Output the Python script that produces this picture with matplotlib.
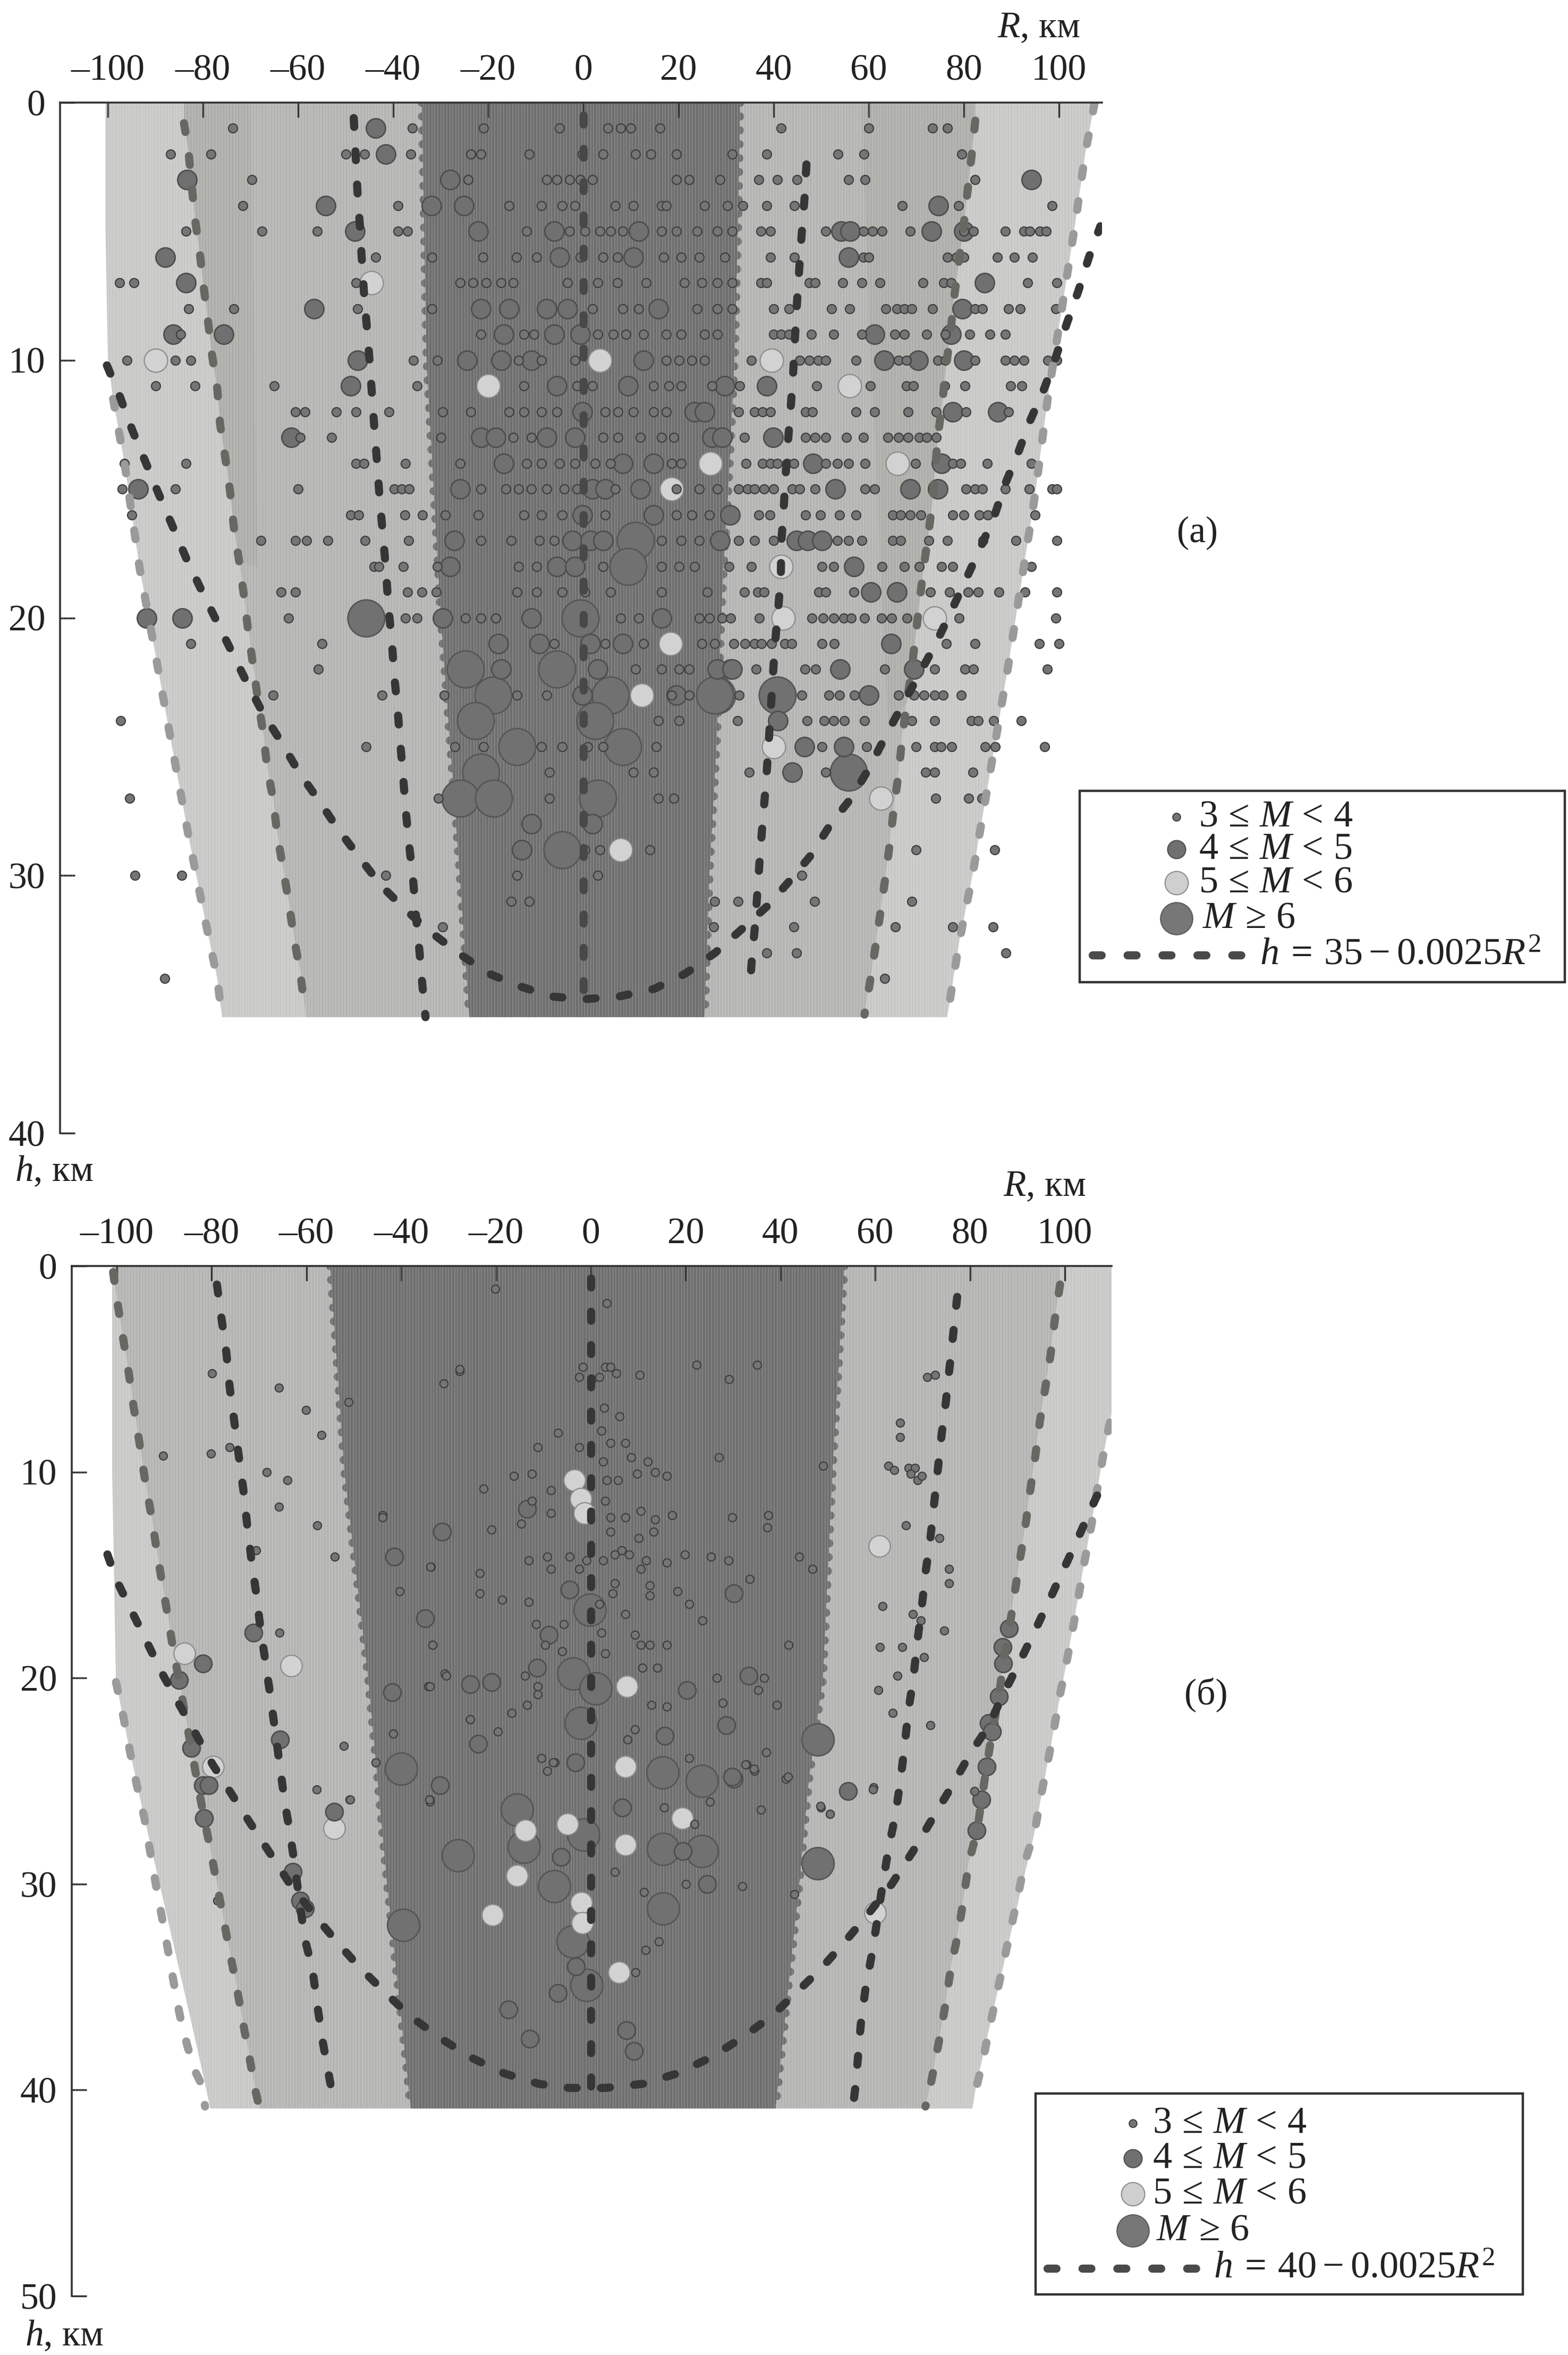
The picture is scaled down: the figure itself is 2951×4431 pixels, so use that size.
import matplotlib
matplotlib.use('Agg')
import matplotlib.pyplot as plt
import numpy as np
from matplotlib.patches import Rectangle

plt.rcParams['font.family'] = ['Liberation Serif', 'DejaVu Sans']
plt.rcParams['mathtext.fontset'] = 'custom'
plt.rcParams['mathtext.rm'] = 'Liberation Serif'
plt.rcParams['mathtext.it'] = 'Liberation Serif:italic'
plt.rcParams['mathtext.bf'] = 'Liberation Serif:bold'

W, H = 2951, 4431

x_ticks = [-100, -80, -60, -40, -20, 0, 20, 40, 60, 80, 100]
x_labels = ['–100', '–80', '–60', '–40', '–20', '0', '20', '40', '60', '80', '100']
a_y_ticks = [0, 10, 20, 30, 40]
b_y_ticks = [0, 10, 20, 30, 40, 50]

# ---------- panel (a): band edges and dashed curves
a_bottom = 35.5
a_outer_l_R = [-100.5, -100.5, -100, -98.9, -96.5, -93.3, -90.6, -86.8, -82.8, -79.9, -77, -76]
a_outer_l_h = [0, 5, 10, 11.5, 14, 18.1, 20.8, 24.7, 28.7, 31.4, 34, 35.5]
a_dark_l_R = [-34, -33.5, -33, -31.5, -30, -28, -26, -24]
a_dark_l_h = [0, 5, 10, 15, 20, 25, 30, 35.5]
a_dark_r_R = [33, 32.5, 31.8, 30.5, 29.5, 29, 28, 26.5, 25.5]
a_dark_r_h = [0, 5, 10, 15, 18, 20, 25, 30, 35.5]
a_outer_r_R = [107.5, 105.5, 103.4, 101.2, 97.7, 94.9, 92.7, 89.2, 85.6, 81.9, 79, 76.5]
a_outer_r_h = [0, 2, 4.7, 7.3, 11.4, 15.3, 17.9, 22, 25.9, 29.9, 32.6, 35.5]

a_shade_l_R = [-70, -69.5, -69, -68.5]
a_shade_l_h = [0, 6, 12, 18]
a_shade_r_R = [58.5, 60, 62, 64]
a_shade_r_h = [0, 8, 16, 24]

a_b_l_R = [-84, -83.1, -81.7, -80.7, -79.9, -79, -78.1, -77, -76.4, -75.3, -74.3, -73.5, -72.4, -71.5, -70.5, -69.5, -68.5,
           -67.4, -66.5, -65.2, -64.4, -63.1, -61.9, -60.9, -59.6, -58.5]
a_b_l_h = [0.8, 1.8, 4.5, 5.8, 7.1, 8.4, 9.8, 11.1, 12.5, 13.8, 15.1, 16.5, 17.8, 19, 20.5, 21.8, 23.1,
           24.4, 25.8, 27.1, 28.4, 29.8, 31.1, 32.4, 33.7, 35.3]
a_b_r_R = [82.4, 81.6, 80.8, 80, 79, 78, 77.2, 76.3, 75.5, 74.5, 73.4, 72.5, 71.5, 70.6, 69.8, 69, 68, 67, 66.3, 65.2,
           64.4, 63.4, 62.4, 61.3, 60.2, 59.1]
a_b_r_h = [0.7, 2.1, 3.4, 4.7, 6.1, 7.5, 8.9, 10.2, 11.6, 13, 15.5, 16.8, 18.1, 19.5, 20.8, 22, 23.3, 24.7, 26, 27.5,
           28.8, 30.2, 31.5, 32.9, 34.2, 35.4]
a_c_l_R = [-48.3, -47.5, -47, -46.6, -46.1, -45.5, -44.9, -44.4, -43.9, -43.3, -42.8, -42.1, -41.5, -41, -40.3, -39.8,
           -39.1, -38.5, -37.9, -37.3, -36.6, -35.8, -35.2, -34.5, -33.9, -33.2]
a_c_l_h = [0.6, 3.5, 4.8, 6.1, 7.5, 8.8, 10.2, 11.5, 12.8, 14.2, 15.5, 16.9, 18.2, 19.6, 20.9, 22.2,
           23.5, 24.9, 26.2, 27.6, 28.9, 30.2, 31.6, 32.9, 34.2, 35.5]
a_c_r_R = [46.9, 46.5, 45.9, 45.4, 44.9, 44.5, 44.1, 43.6, 43, 42.5, 42.1, 41.6, 41.5, 40.2, 38.8, 38.3, 37.7, 37.1,
           36.6, 36.1, 35.4, 34.9]
a_c_r_h = [2.4, 3.7, 5.1, 6.4, 7.8, 9.1, 10.5, 11.8, 13.2, 14.5, 15.8, 17.1, 18.5, 21.2, 25.3, 26.6, 27.9, 29.3,
           30.6, 31.9, 33.3, 34.6]
a_zero_R = [0, 0, 0]
a_zero_h = [0.5, 18, 35.2]
a_par_R = [-100.2, -97.5, -94.9, -92.2, -89.3, -86.5, -83.5, -80.4, -77.2, -74, -70.8, -67.4, -63.6, -59.8, -55.6, -51.6,
           -47.1, -42.5, -37.6, -32.1, -26.4, -20, -13.4, -6.6, 0.3, 7.4, 14.9, 21.5, 27.7, 33.2, 38.6, 43.4, 47.9, 52,
           56.3, 60.2, 63.8, 74.1, 77.2, 83.2, 86.3, 88.7, 91.4, 93.8, 96.9, 99.3, 101.6, 104.1, 106.3, 108.7]
a_par_h = [10.2, 11.4, 12.7, 13.9, 15.2, 16.4, 17.7, 18.9, 20.1, 21.3, 22.5, 23.7, 24.8, 26, 27.1, 28.2,
           29.3, 30.4, 31.3, 32.2, 33, 33.8, 34.3, 34.7, 34.8, 34.7, 34.4, 33.8, 33, 32.1, 31.2, 30.2, 29.2, 28,
           27, 25.8, 24.5, 21, 19.8, 17.4, 16.1, 14.8, 13.6, 12.4, 11.1, 9.9, 8.6, 7.3, 6, 4.8]

# panel (a) catalogue: M 3-4, given row by row (depths are whole km there)
a_m3_depths = list(range(1, 35))
a_m3_R = [
    [-73.8, -36, -21, -5, 5.1, 7.8, 9.9, 16.1, 41.6, 60, 73.4, 76.5],
    [-86.8, -78.3, -50, -46, -36.3, -23.7, -21.6, -11.4, -0.2, 4.1, 11, 14.2, 19.6, 31.3, 38.5, 53.5, 59, 79.6],
    [-69.7, -24.3, -7.7, -5.6, -2.9, -0.7, 1.9, 19.6, 22.2, 28.7, 36.9, 40.8, 44.9, 55.7, 59.2, 82.4],
    [-71.6, -39, -15.7, -8.8, -4.5, -1.8, 6.7, 10.5, 16.4, 17.4, 25.5, 30.3, 33.5, 38.5, 44.4, 67, 78.9, 98.5],
    [-83.6, -67.6, -56, -39, -37, -12, -2.9, 0.3, 3.5, 5.7, 8.3, 16.4, 19.6, 23.9, 28.1, 31.3, 37.3, 39.3, 51, 58.9,
     60.8, 62.8, 68.7, 80, 82, 88.7, 92.6, 93.8, 96, 97.3],
    [-43.7, -31.8, -21.1, -14.1, -9.8, -0.7, 4.1, 7.2, 16.9, 20.6, 24.4, 29.7, 39.3, 44.4, 58.9, 60, 76.5, 78.4, 80,
     87, 90.6, 94.4],
    [-97.5, -94.5, -47.8, -25.9, -23.2, -20.5, -17.3, -14.7, -3.4, 3, 7.2, 13.2, 21.2, 24.9, 28.1, 31.3, 37.3, 38.5,
     47.5, 48.7, 54.5, 58.5, 62.4, 71.4, 75.7, 77.3, 93.4, 99.6],
    [-83, -73.5, -47.5, -31.8, 1.9, 8.3, 11.6, 23.9, 28.1, 31.3, 40, 43.2, 52.2, 56, 63.6, 65.9, 67.5, 69, 73.4, 82.4,
     83.9, 89.4, 91.8, 99.3],
    [-84.7, -21.6, -12.5, -10.4, 3, 6.2, 8.9, 12.6, 17.4, 20.6, 25.5, 28.1, 40, 41.6, 43.2, 47.9, 52.6, 58.5, 65.5,
     67.5, 72.2, 76.1, 81.2, 85.5, 88.7],
    [-96, -85.8, -82.6, -35.8, -30.7, -13.6, -8.8, -1.8, 17.4, 20.1, 22.8, 25.5, 35.3, 45.5, 47.5, 49.4, 51, 57.3,
     66.3, 67.9, 74.5, 76.1, 82.4, 88.7, 90.6, 92.6, 97.7, 99.6],
    [-90, -81.7, -65, -35, -12.5, -1.3, 1.9, 14.8, 18, 20.6, 27, 32.9, 49, 60.3, 67.9, 69.4, 76, 80.2, 89.8, 92.2],
    [-60.6, -58.5, -52, -47.8, -40.9, -29.6, -23.7, -15.7, -12.5, -8.8, -5.6, 4.6, 7.3, 10.5, 14.8, 17.4, 32.6, 36,
     37.7, 39.3, 46.7, 48.2, 57.3, 61.2, 68.3, 74.2, 80.4, 89.4],
    [-59.6, -53, -30, -14.7, -10.9, 4.1, 7.3, 12, 16.4, 19, 33.8, 46.7, 48.7, 51, 55.3, 58.9, 64, 66.3, 68.3, 70.6,
     72.2, 74.2],
    [-96.5, -83.6, -47.8, -46.2, -37.4, -25.9, -12, -8.8, -5, -1.8, 2.5, 5.7, 18.5, 20.6, 34.2, 37.7, 39.3, 40.8,
     42.8, 44.3, 51, 53.4, 55.7, 59.2, 69.8, 77.7, 79.3, 84.9, 94.2],
    [-97, -85.8, -60, -39.8, -38.2, -36.6, -21.6, -16.3, -13.6, -10.9, -7.7, -4, -1.3, 6.7, 19.6, 24.4, 28.1, 32.6,
     34.5, 36, 38, 40, 43.9, 45.5, 48.7, 59.2, 61.2, 80.4, 82.4, 83.9, 88.7, 93.7, 98.5, 99.6],
    [-95, -48.9, -47.3, -37.6, -33.9, -29, -22.1, -12.5, -8.8, -4.5, 4.6, 19.6, 22.8, 26.5, 36.9, 39.2, 46.7, 49.8,
     53.8, 57.3, 65, 66.7, 68.7, 71, 77.7, 80, 83.2, 85, 95],
    [-67.8, -60.6, -58.2, -53.7, -45.9, -36.8, -21.6, -15.2, -9.3, -6.1, 16.4, 20.6, 24.4, 32.6, 36, 40, 53.4, 55.7,
     58.5, 65, 66.7, 72.6, 76.5, 84, 91, 99.6],
    [-44, -43, -37.9, -30.7, -13.6, -9.8, 4.1, 16.4, 20.1, 23.3, 30.6, 35.3, 50.2, 52.6, 62.8, 67.5, 70.6, 75.3, 77.7,
     94.2],
    [-63.6, -60.6, -37, -34, -31, -14, -9.8, -4.5, 0.3, 5.7, 16.4, 26, 33.8, 36.6, 38, 49.5, 50.9, 56.9, 73, 77, 80.9,
     83, 87.4, 92.9, 99.5],
    [-62, -37.4, -35, -24.8, -21.6, -18.4, 7.8, 11.6, 24.4, 26.5, 29.2, 30.9, 37, 48, 50.4, 52.6, 54.8, 56.3, 59.1,
     62.7, 64.8, 68, 79, 99.3],
    [-82.6, -55, -6.1, 4.6, 12.6, 24.9, 27.6, 31.6, 34, 36, 37.4, 39.5, 42.4, 43.8, 50.2, 52.7, 76.3, 82.4, 95.9, 100],
    [-55.8, 11, 16.4, 20.1, 22.2, 36.3, 46.6, 48.8, 63.4, 73.8, 80.2, 82, 97.5],
    [-65.2, -42.3, -29.3, -14, -7.7, 18.5, 22.2, 32.7, 45.9, 51.6, 53.8, 57, 66.3, 69.5, 71.6, 73.8, 75.6, 79.4],
    [-97.3, 15.8, 20.1, 32.4, 47, 50.6, 52.6, 54.9, 59.1, 69, 73.8, 81.6, 83, 86.3, 92.1],
    [-45.7, -27, -21, -8.8, -4.5, 0.9, 4.1, 15.3, 50.2, 59.5, 69.9, 73.8, 75.2, 77.4, 84.5, 86.6, 97],
    [-7.2, 10.5, 14.8, 34.9, 50.9, 72, 73.8, 81.9],
    [-95.4, -30.5, -7.2, 15.8, 19, 74.1, 81, 83.8],
    [],
    [0.3, 3.5, 14, 69.9, 86.5],
    [-94.3, -84.5, -41.6, -14, 3, 45.9],
    [-15.2, -11.4, 27.6, 32.5, 48.6, 69],
    [-29.6, 27.4, 44.3, 65.6, 77.7, 86.1],
    [38.6, 44.8, 88.8],
    [-88, 63.4],
]
a_m4_pts = [
    (-43.7, 1), (-41.6, 2), (-83.3, 3), (-54.2, 4), (-48.1, 5), (-87.9, 6), (-83.6, 7), (-56.6, 8), (-86.3, 9),
    (-75.6, 9), (-47.5, 10), (-48.9, 11), (-61.5, 13), (-93.6, 15), (-91.9, 20), (-84.4, 20),
    (94.2, 3), (74.6, 4), (54.2, 5), (56.1, 5), (73.2, 5), (80, 5), (55.7, 6), (84.4, 7), (79.7, 8), (61.2, 9), (77.3, 9),
    (63.2, 10), (70.4, 10), (80, 10), (38.5, 11), (77.7, 12), (87.1, 12), (39.9, 13), (48.3, 14), (75.3, 14), (53, 15),
    (68.7, 15), (74.5, 15), (44.8, 17), (47.1, 17), (50.2, 17), (56.9, 18), (60.4, 19), (65.9, 19), (64.7, 21), (54, 22),
    (60, 23), (46.5, 25), (54.8, 25), (43.9, 26), (40.9, 24), (30.9, 22), (69.5, 22),
    (-28, 3), (-32, 4), (-25.1, 4), (-22.1, 5), (-6.1, 5), (11.6, 5), (-5, 6), (10.5, 6), (-21.6, 8), (-15.7, 8), (-7.7, 8),
    (-3.4, 8), (15.8, 8), (-16.8, 9), (-6.1, 9), (-0.7, 9), (-24.5, 10), (-17.3, 10), (-10.9, 10), (12.6, 10), (-5.6, 11),
    (9.4, 11), (29.7, 11), (-0.2, 12), (23.3, 12), (25.5, 12), (-21.6, 13), (-18.4, 13), (-7.7, 13), (-1.8, 13), (27, 13),
    (29.2, 13), (-16.8, 14), (8.3, 14), (14.8, 14), (-25.9, 15), (1.9, 15), (4.6, 15), (12, 15), (-0.2, 16), (14.8, 16),
    (30.8, 16), (-27.2, 17), (-2.4, 17), (1.4, 17), (4.1, 17), (28.7, 17), (-28, 18), (-5.6, 18), (-1.8, 18), (-10.9, 20),
    (-29.6, 20), (16.4, 20), (-17.9, 21), (-9.3, 21), (1.4, 21), (8.3, 21), (-17.3, 22), (3, 22), (28.1, 22), (31.3, 22),
    (-0.2, 23), (19.6, 23), (-10.9, 28), (1.9, 28), (-13, 29),
]
a_m5_pts = [
    (-90, 10), (-44.6, 7), (39.6, 10), (56, 11), (66, 14), (41.6, 18), (42, 20), (73.8, 20), (40, 25), (62.6, 27),
    (3.5, 10), (-20, 11), (26.7, 14), (18.5, 15), (18.3, 21), (12.3, 23), (7.8, 29),
]
a_m6_pts = [
    (-45.7, 20), (40.8, 23), (55.8, 26), (28, 23), (-0.7, 20), (-24.8, 22), (-5.6, 22), (-19, 23), (5.7, 23), (27.6, 23),
    (-22.7, 24), (2.5, 24), (-14, 25), (8.3, 25), (-21.6, 26), (-25.9, 27), (-18.9, 27), (3, 27), (-4.5, 29), (11, 17),
    (9.4, 18),
]

# ---------- panel (b)
b_bottom = 40.9
b_outer_l_R = [-101, -101, -100.2, -97.3, -94.2, -91, -87.5, -84.5, -81.4, -80.3]
b_outer_l_h = [0, 10, 20.2, 23.5, 26.8, 30, 33.5, 36.5, 39.7, 40.9]
b_dark_l_R = [-55, -52, -47, -43, -38]
b_dark_l_h = [0, 10, 20, 30, 40.9]
b_dark_r_R = [53.5, 51, 49, 46, 44, 39]
b_dark_r_h = [0, 10, 20, 25, 30, 40.9]
b_outer_r_R = [110.5, 110, 108.1, 104.2, 100.4, 96.3, 93.7, 88, 81.2, 80.5]
b_outer_r_h = [0, 7, 9.2, 14.3, 19.2, 24.2, 27.4, 33, 39.9, 40.9]

b_b_l_R = [-100.8, -99.8, -98.7, -97.5, -96.5, -95.3, -94.2, -92.9, -91.8, -90.6, -89.4, -88.2, -86.9, -85.6, -84.3,
           -83, -81.6, -80.2, -78.9, -77.5, -76.2, -74.8, -73.5, -72.2, -70.9, -70]
b_b_l_h = [0.3, 1.9, 3.5, 5.2, 6.8, 8.5, 10.2, 11.9, 13.5, 15.2, 16.8, 18.5, 20.1, 21.8, 23.4,
           25.1, 26.8, 28.4, 30, 31.7, 33.3, 34.9, 36.6, 38.2, 39.9, 40.8]
b_c_l_R = [-78.9, -77.9, -76.9, -76.2, -75.2, -74.3, -73.3, -72.5, -71.6, -70.6, -69.7, -68.6, -67.6, -66.6, -65.6, -64.6,
           -63.5, -62.4, -61.4, -60.3, -58.7, -57.7, -56.7, -55.4, -54.2]
b_c_l_h = [0.9, 2.6, 4.2, 5.9, 7.6, 9.2, 10.9, 12.6, 14.3, 15.9, 17.6, 19.3, 20.9, 22.6, 24.3, 26,
           27.5, 29.2, 31, 32.7, 34.2, 35.9, 37.5, 39.1, 40.7]
b_c_r_R = [77.3, 76.5, 75.7, 74.9, 74, 73.2, 72.4, 71.6, 70.6, 69.8, 68.9, 68.1, 67, 66.2, 65.3, 64.3, 62.8, 61.5,
           60.4, 59.3, 58, 57, 55.8, 55.3]
b_c_r_h = [1.5, 3.2, 4.9, 6.6, 8.2, 9.9, 11.6, 13.3, 14.9, 16.6, 18.2, 19.9, 21.6, 23.3, 25, 26.6, 28.3, 30.1,
           31.8, 33.4, 35, 36.7, 39.9, 40.8]
b_b_r_R = [99, 97.9, 97, 95.9, 94.7, 93.8, 92.7, 91.7, 90.5, 89.4, 88.3, 87, 86.1, 84.7, 83.5, 81.5, 79.7, 78.6,
           77.4, 76, 75, 73.8, 72.5, 71.2, 70.6]
b_b_r_h = [0.9, 2.6, 4.3, 5.9, 7.6, 9.2, 10.9, 12.6, 14.3, 15.9, 17.6, 19.3, 20.9, 22.6, 24.3, 27.4, 29, 30.8,
           32.5, 34, 35.6, 37.2, 38.8, 40.3, 40.8]
b_outer_dash_l_R = [-100.2, -98.7, -97.3, -95.8, -94.2, -93, -91.8, -90.5, -89.3, -88, -86.7, -85.2, -83.7, -82.2, -81.4]
b_outer_dash_l_h = [20.2, 21.8, 23.5, 25.2, 26.8, 28.4, 30, 31.6, 33.1, 34.8, 36.4, 37.8, 39, 39.7, 40.8]
b_outer_dash_r_R = [109.5, 108.1, 106.8, 105.6, 104.2, 103, 101.7, 100.4, 99, 97.7, 96.3, 94.9, 93.7, 91.5, 90, 88.5,
                    87, 85.5, 84, 82.6, 81.2]
b_outer_dash_r_h = [7.6, 9.2, 10.9, 12.6, 14.3, 15.9, 17.6, 19.2, 20.8, 22.5, 24.2, 25.8, 27.4, 29, 30.7, 32.3,
                    33.9, 35.5, 37.1, 38.7, 40]
b_zero_R = [0, 0, 0]
b_zero_h = [0.6, 20, 40.7]
b_par_R = [-102, -100.2, -97, -93.8, -90.4, -87.3, -83.4, -79.8, -75.9, -72, -68, -63.5, -58.7, -54, -49, -43.7, -38.2,
           -32.3, -25.5, -18.2, -11, -4.5, 3, 11, 18.2, 25.5, 32.3, 38.2, 43.7, 49, 54, 58.7, 63.5, 68, 72.4, 76.3, 80,
           84, 87, 90.3, 93.5, 96.8, 99.8, 102.8, 105.9, 108.9]
b_par_h = [14, 15.2, 16.7, 18.2, 19.8, 21.1, 22.7, 24.2, 25.6, 27, 28.4, 30, 31.4, 32.7, 34, 35.2, 36.4,
           37.4, 38.4, 39.2, 39.7, 39.9, 39.9, 39.7, 39.2, 38.4, 37.4, 36.4, 35.2, 34, 32.7, 31.4, 30, 28.4, 26.7, 25.2, 23.7,
           22.3, 20.8, 19.3, 17.8, 16.2, 14.7, 13.2, 11.6, 10.1]

b_m3_pts = [
    (-79.9, 5.2), (-65.8, 5.9), (-60.1, 7), (-56.8, 8.2), (-90.3, 9.2), (-80.2, 9.1), (-76.2, 8.8), (-68.4, 10), (-64, 10.4),
    (-65.8, 11.7), (-57.7, 12.6), (-54, 14.1), (-70.6, 13.8), (-65.7, 17.8), (-52.1, 23.3), (-57.8, 25.4), (-50.9, 25.9),
    (-51.1, 6.6), (-40.4, 15.8), (-44, 12.1), (-33.7, 14.6), (-33.4, 18.4), (-34.3, 20.4), (-30.8, 19.8), (-25.4, 22),
    (-41.7, 22.7), (-45.4, 24.1), (-34, 25.9), (-27.7, 5.1), (-31.1, 5.7), (-78.8, 30.8),
    (71, 5.4), (72.7, 5.3), (65.3, 7.6), (65.3, 8.3), (62.8, 9.7), (64, 9.9), (67, 9.8), (68.4, 9.8), (67.5, 10.1), (68.9, 10.4),
    (69.8, 10.2), (66.5, 12.6), (73.5, 13.2), (75.6, 14.7), (75.6, 15.4), (61.6, 16.5), (67.9, 16.9), (69.6, 17.2), (74.5, 17.7),
    (61, 18.5), (65.7, 18.5), (70.3, 19), (64.7, 19.9), (60.6, 20.6), (63.7, 21.7), (71.6, 22.3), (59.6, 25.3), (48.6, 26.3),
    (50.5, 26.6), (81, 25.5),
    (3.4, 1.8), (3, 4.9), (4.2, 4.9), (5.4, 5.2), (10.3, 5.3), (22.3, 4.8), (35.1, 4.8), (29.2, 5.5), (-20.2, 1.1), (-27.7, 5),
    (-1.7, 4.9), (-2.5, 5.4), (0.2, 5.5), (1.8, 5.4), (2.8, 6.9), (6.1, 7.3), (-6.9, 8.1), (-11.2, 8.8), (-2.5, 8.8), (2.2, 8),
    (4.2, 8.6), (7.3, 8.6), (2.6, 9.5), (8.5, 9.3), (12, 9.5), (13.6, 10), (16, 10.2), (9.7, 10.1), (5.7, 10.4), (3.4, 10.4),
    (-12.4, 10.1), (-16.3, 10.2), (-22.6, 10.8), (27, 9.3), (49, 9.7), (-8.4, 10.9), (-12.4, 11.4), (3, 11.4), (4.2, 12.2),
    (7.3, 12.2), (10.5, 11.9), (13.6, 12.3), (17.2, 12.1), (-8.4, 12), (-14.7, 12.5), (-43.9, 12.2), (-21, 12.8), (13.2, 12.9),
    (29.8, 12.2), (37.5, 12.1), (37.2, 12.7), (4.2, 12.9), (10.1, 13.2), (6.5, 13.8), (-13.1, 14.3), (-9.2, 14.1), (-4.5, 14.1),
    (-0.9, 14.3), (2.6, 14.3), (5, 14), (8.1, 14), (11.7, 14.3), (16, 14.4), (19.8, 14), (25.3, 14.1), (29, 14.3), (43.9, 14.1),
    (46.7, 14.7), (-8.4, 14.7), (-2.5, 14.7), (10.5, 14.7), (-33.8, 14.6), (-23.4, 14.9), (5, 15.4), (12.4, 15.5), (33.5, 15.2),
    (-23.4, 15.9), (-18.7, 16.2), (-13.1, 16.3), (4.6, 15.9), (12.4, 16), (18.3, 15.8), (20.7, 16.4), (1.8, 16.4), (7.3, 16.9),
    (23.5, 17.2), (-11.6, 17.4), (-5.7, 17.4), (2.2, 17.8), (9.3, 17.9), (12.4, 18.4), (10.5, 18.4), (16, 18.4), (41.7, 18.4),
    (-33.4, 18.4), (-9.6, 18.4), (-6.1, 18.7), (3, 18.8), (10.9, 19.5), (14, 19.5), (-30.5, 19.9), (-13.9, 19.9), (-34, 20.4),
    (26.6, 20), (36.5, 20), (-11.2, 20.4), (35.3, 20.6), (-11.2, 20.8), (12.8, 21.3), (16, 21.4), (39.2, 21.3), (-13.5, 21.3),
    (-16.7, 21.7), (27.8, 21.2), (-25.4, 22), (-19.6, 22.6), (-41.7, 22.7), (9.3, 22.5), (7.7, 23), (20.7, 23.9), (-10.4, 23.9),
    (-7.6, 24.1), (32.9, 24.2), (34.5, 24.5), (37, 23.6), (-34, 26), (-9.2, 24.5), (41.2, 24.9),
    (-34.1, 25.9), (-50.8, 25.9), (35.9, 26.4), (25.1, 26), (32.6, 24.2), (34.4, 24.4), (15.5, 26.3), (21.9, 27.1), (5.1, 29.4),
    (20.1, 30), (31.9, 30.1), (11.2, 30.4), (42.9, 30.5), (11.6, 33.2), (14.4, 32.8), (9.4, 34.3), (48.4, 26.2), (50.4, 26.6),
    (41.6, 24.8), (-8, 24.1), (59.5, 25.4),
]
b_m4_pts = [
    (-71.2, 17.8), (-81.8, 19.3), (-86.9, 20.1), (-65.6, 23), (-84.3, 23.4), (-81.8, 25.2), (-80.6, 25.2), (-81.6, 26.8),
    (-54.1, 26.5), (-62.9, 29.4), (-61.3, 30.8), (-60.3, 31.2),
    (86.9, 18.5), (87, 19.3), (86.1, 20.9), (84, 22.2), (84.7, 22.6), (83.5, 24.3), (82.4, 25.9), (54.3, 25.5), (88.2, 17.6),
    (81.4, 27.4),
    (-31.4, 12.9), (-41.5, 14.1), (-4.5, 15.7), (30.2, 15.9), (-35, 17.1), (-21, 20.2), (-25.4, 20.3), (-41.9, 20.7), (20.3, 20.6),
    (33.3, 19.9), (-11.3, 19.5), (-8.8, 17.9), (-13.5, 11.8), (-23.8, 23.2), (28.6, 22.3), (15.6, 22.8), (-3.3, 24.1), (30.2, 24.9),
    (-31.8, 25.2), (29.8, 24.8), (6.6, 26.3), (-6.3, 28.7), (24.6, 30), (19.4, 28.4), (-3.1, 34), (-6.9, 35.3), (-17.4, 36.1),
    (-12.9, 37.5), (7.5, 37.1), (9.1, 38.1),
]
b_m5_pts = [
    (-85.8, 18.8), (-63.2, 19.4), (-79.7, 24.3), (60.9, 13.6), (-54.1, 27.3), (60, 31.4),
    (-3.5, 10.4), (-2.1, 11.3), (-1.3, 12), (7.6, 20.4), (7.3, 24.3), (-4.9, 27.1), (-13.8, 27.4), (19.3, 26.8), (7.3, 28.1),
    (-15.6, 29.6), (-20.7, 31.5), (-2, 30.9), (-1.8, 31.9), (5.9, 34.3),
]
b_m6_pts = [
    (-2.1, 22.2), (47.9, 23), (-3.7, 19.8), (1, 20.5), (-0.2, 16.7), (-40, 24.4), (-15.6, 26.4), (15.1, 24.6), (23.4, 25), (-28, 28.6),
    (15.3, 28.3), (-14.1, 28.2), (23.4, 28.4), (-7.7, 30.1), (15.3, 31.2), (-39.6, 32), (-3.8, 32.8), (-0.9, 34.9), (47.9, 29),
    (-1.6, 27.6),
]

# colours
c_dark = '#6e6e6e'
c_mid = '#b4b4b2'
c_light = '#c8c8c6'
c_shade = '#adaea9'
c_line = '#363636'
c_line2 = '#666862'
c_line3 = '#9a9a9a'


def make_axes(left, right, top, bottom, xlim, ylim, yticks):
    ax = fig.add_axes([left / W, 1 - bottom / H, (right - left) / W, (bottom - top) / H])
    ax.set_xlim(*xlim)
    ax.set_ylim(*ylim)
    ax.set_facecolor('none')
    ax.xaxis.tick_top()
    ax.set_xticks(x_ticks)
    ax.set_xticklabels(x_labels)
    ax.set_yticks(yticks)
    ax.tick_params(axis='both', direction='in', length=20, width=2.5, labelsize=50, color='#333333',
                   labelcolor='#222222', zorder=20)
    ax.tick_params(axis='x', pad=20)
    ax.tick_params(axis='y', pad=20)
    for side in ['right', 'bottom']:
        ax.spines[side].set_visible(False)
    for side in ['left', 'top']:
        ax.spines[side].set_linewidth(2.6)
        ax.spines[side].set_color('#333333')
        ax.spines[side].set_zorder(20)
    return ax


def dash(ax, R, h, color, lw=11, zorder=9):
    ax.plot(R, h, color=color, lw=lw, ls=(0, (1.1, 3.0)), dash_capstyle='round', zorder=zorder)


def scallop(ax, R, h, color):
    ax.plot(R, h, color=color, lw=11, ls=(0, (0.01, 1.7)), dash_capstyle='round', zorder=1)


def to_edges(R, h, bottom):
    # dashed curves start a little below the top, the bands they bound do not
    return [R[0]] + R + [R[-1]], [0] + h + [bottom]


def bands(ax, ol_R, ol_h, bl_R, bl_h, dl_R, dl_h, dr_R, dr_h, br_R, br_h, or_R, or_h, bottom):
    bl_R, bl_h = to_edges(bl_R, bl_h, bottom)
    br_R, br_h = to_edges(br_R, br_h, bottom)
    ax.fill(ol_R + bl_R[::-1], ol_h + bl_h[::-1], color=c_light, lw=0, zorder=1)
    ax.fill(bl_R + dl_R[::-1], bl_h + dl_h[::-1], color=c_mid, lw=0, zorder=1)
    ax.fill(dl_R + dr_R[::-1], dl_h + dr_h[::-1], color=c_dark, lw=0, zorder=1)
    ax.fill(dr_R + br_R[::-1], dr_h + br_h[::-1], color=c_mid, lw=0, zorder=1)
    ax.fill(br_R + or_R[::-1], br_h + or_h[::-1], color=c_light, lw=0, zorder=1)
    scallop(ax, dl_R, dl_h, c_dark)
    scallop(ax, dr_R, dr_h, c_dark)
    # halftone stripes of the print; white on white outside the bands
    ax.vlines(np.arange(-110, 110, 0.63), 0, bottom, colors='white', lw=1.1, alpha=0.2, zorder=2)


def events(ax, m3, m4, m5, m6, sizes):
    for pts, s, fc, ec, lw, z in [(m6, sizes[3], '#717171', '#565656', 2, 4),
                                  (m5, sizes[2], '#d2d2d2', '#8c8c8c', 1.6, 5),
                                  (m4, sizes[1], '#707070', '#4e4e4e', 2, 6),
                                  (m3, sizes[0], '#757575', '#3f3f3f', 1.6, 7)]:
        R = [p[0] for p in pts]
        h = [p[1] for p in pts]
        ax.scatter(R, h, s=s, facecolor=fc, edgecolor=ec, linewidth=lw, zorder=z)


fig = plt.figure(figsize=(W / 100, H / 100), dpi=100)

# panel (a)
ax = make_axes(113, 2074, 193, 2132, (-110.06, 109.05), (40, 0), a_y_ticks)
bands(ax, a_outer_l_R, a_outer_l_h, a_b_l_R, a_b_l_h, a_dark_l_R, a_dark_l_h, a_dark_r_R, a_dark_r_h,
      a_b_r_R, a_b_r_h, a_outer_r_R, a_outer_r_h, a_bottom)
a_b_top_l_R = [a_b_l_R[0]] + [p for p, d in zip(a_b_l_R, a_b_l_h) if d < 18]
a_b_top_l_h = [0] + [d for d in a_b_l_h if d < 18]
ax.fill(a_b_top_l_R + a_shade_l_R[::-1], a_b_top_l_h + a_shade_l_h[::-1], color=c_shade, lw=0, zorder=1)
a_b_top_r_R = [a_b_r_R[0]] + [p for p, d in zip(a_b_r_R, a_b_r_h) if d < 24]
a_b_top_r_h = [0] + [d for d in a_b_r_h if d < 24]
ax.fill(a_b_top_r_R + a_shade_r_R[::-1], a_b_top_r_h + a_shade_r_h[::-1], color=c_shade, lw=0, zorder=1)

a_m3_pts = [(R, d) for d, row in zip(a_m3_depths, a_m3_R) for R in row]
events(ax, a_m3_pts, a_m4_pts, a_m5_pts, a_m6_pts, (150, 680, 1000, 2500))
dash(ax, a_outer_l_R[3:], a_outer_l_h[3:], c_line3, zorder=8)
dash(ax, a_outer_r_R, a_outer_r_h, c_line3, zorder=8)
dash(ax, a_b_l_R, a_b_l_h, c_line2)
dash(ax, a_b_r_R, a_b_r_h, c_line2)
dash(ax, a_c_l_R, a_c_l_h, c_line)
dash(ax, a_c_r_R, a_c_r_h, c_line)
dash(ax, a_zero_R, a_zero_h, '#484848')
dash(ax, a_par_R, a_par_h, c_line)

# panel (b)
ax2 = make_axes(135, 2092, 2382, 4320, (-109.53, 109.87), (50, 0), b_y_ticks)
bands(ax2, b_outer_l_R, b_outer_l_h, b_b_l_R, b_b_l_h, b_dark_l_R, b_dark_l_h, b_dark_r_R, b_dark_r_h,
      b_b_r_R, b_b_r_h, b_outer_r_R, b_outer_r_h, b_bottom)
events(ax2, b_m3_pts, b_m4_pts, b_m5_pts, b_m6_pts, (120, 560, 850, 1900))
dash(ax2, b_outer_dash_l_R, b_outer_dash_l_h, c_line3, zorder=8)
dash(ax2, b_outer_dash_r_R, b_outer_dash_r_h, c_line3, zorder=8)
dash(ax2, b_b_l_R, b_b_l_h, c_line2)
dash(ax2, b_b_r_R, b_b_r_h, c_line2)
dash(ax2, b_c_l_R, b_c_l_h, c_line)
dash(ax2, b_c_r_R, b_c_r_h, c_line)
dash(ax2, b_zero_R, b_zero_h, '#363636')
dash(ax2, b_par_R, b_par_h, c_line)

# overlay in picture pixels: axis names, panel letters, legends
ov = fig.add_axes([0, 0, 1, 1], zorder=30)
ov.set_xlim(0, W)
ov.set_ylim(H, 0)
ov.axis('off')
ov.patch.set_alpha(0)

ov.text(1877, 53, r'$R$, км', fontsize=50, va='center', ha='left', color='#222222')
ov.text(1888, 2233, r'$R$, км', fontsize=50, va='center', ha='left', color='#222222')
ov.text(28, 2205, r'$h$, км', fontsize=50, va='center', ha='left', color='#222222')
ov.text(47, 4396, r'$h$, км', fontsize=50, va='center', ha='left', color='#222222')
ov.text(2253, 1003, '(а)', fontsize=50, va='center', ha='center', color='#222222')
ov.text(2270, 3189, '(б)', fontsize=50, va='center', ha='center', color='#222222')

legend_m = [r'$3\,\leq\,M\,<\,4$', r'$4\,\leq\,M\,<\,5$', r'$5\,\leq\,M\,<\,6$', r'$M\,\geq\,6$']


def legend(x0, x1, y0, y1, mx, tx, rows, sizes, dash_x, tail_x, eq):
    ov.add_patch(Rectangle((x0, y0), x1 - x0, y1 - y0, fill=False, ec='#333333', lw=3.2))
    styles = [('#757575', '#3f3f3f'), ('#707070', '#4e4e4e'), ('#cfcfcf', '#8c8c8c'), ('#777777', '#5a5a5a')]
    for i in range(4):
        ov.scatter([mx], [rows[i]], s=sizes[i], facecolor=styles[i][0], edgecolor=styles[i][1], linewidth=1.5)
        ov.text(tx + (7 if i == 3 else 0), rows[i], legend_m[i], fontsize=52, va='center', ha='left', color='#222222')
    ov.plot(dash_x, [rows[4]] * len(dash_x), color='#4a4a4a', lw=11, ls=(0, (1.1, 3.2)), dash_capstyle='round')
    ov.text(tail_x, rows[4], eq, fontsize=52, va='center', ha='left', color='#222222')


legend(2032, 2945, 1488, 1848, 2214, 2256, [1537, 1598, 1661, 1728, 1797], (110, 600, 1000, 1900), [2056, 2345], 2371,
       r'$h\:=\:35\:-\:0.0025R^2$')
legend(1949, 2866, 3939, 4317, 2132, 2169, [3995, 4061, 4128, 4197, 4268], (110, 600, 1000, 1900), [1971, 2260], 2284,
       r'$h\:=\:40\:-\:0.0025R^2$')

fig.savefig('out.png', dpi=100, facecolor='white')
